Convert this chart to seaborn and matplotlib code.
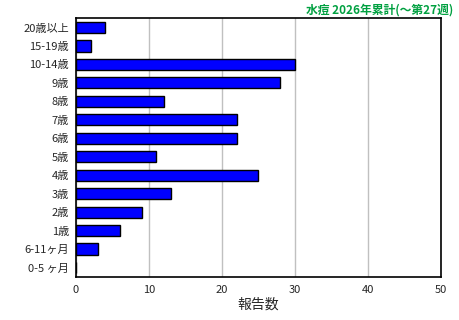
import matplotlib
matplotlib.use("Agg")
import matplotlib.pyplot as plt
import seaborn as sns
import pandas as pd

categories = ["20歳以上", "15-19歳", "10-14歳", "9歳", "8歳", "7歳", "6歳",
              "5歳", "4歳", "3歳", "2歳", "1歳", "6-11ヶ月", "0-5 ヶ月"]
counts = [4, 2, 30, 28, 12, 22, 22, 11, 25, 13, 9, 6, 3, 0]
title = "水痘 2026年累計(〜第27週)"
xlabel = "報告数"
xticks = [0, 10, 20, 30, 40, 50]

sns.set_theme(style="white")
plt.rcParams['font.family'] = ['Noto Sans CJK JP', 'DejaVu Sans']

df = pd.DataFrame({"cat": categories, "n": counts})

fig = plt.figure(figsize=(4.6, 3.2), dpi=100)
ax = fig.add_axes([0.1652, 0.1353, 0.7935, 0.8075])
sns.barplot(data=df, x="n", y="cat", orient="h", color="#0000ff",
            edgecolor="black", linewidth=1.0, width=0.6, saturation=1, ax=ax, zorder=3)
ax.set_xlim(0, 50)
ax.set_xticks(xticks)
ax.set_xticklabels([str(t) for t in xticks], fontsize=8)
ax.tick_params(axis='y', labelsize=8, length=0, pad=5)
ax.tick_params(axis='x', length=4, direction='in', pad=6, color='black')
ax.xaxis.grid(True, color="#c0c0c0", linewidth=1, zorder=0)
ax.set_axisbelow(True)
ax.set_ylabel("")
ax.set_xlabel(xlabel, fontsize=10, labelpad=2)
for s in ax.spines.values():
    s.set_color("black")
    s.set_linewidth(1.2)
fig.text(0.985, 0.97, title, ha="right", va="center", color="#00a040",
         fontsize=8.5, fontweight="bold")
fig.savefig("out.png", dpi=100)
